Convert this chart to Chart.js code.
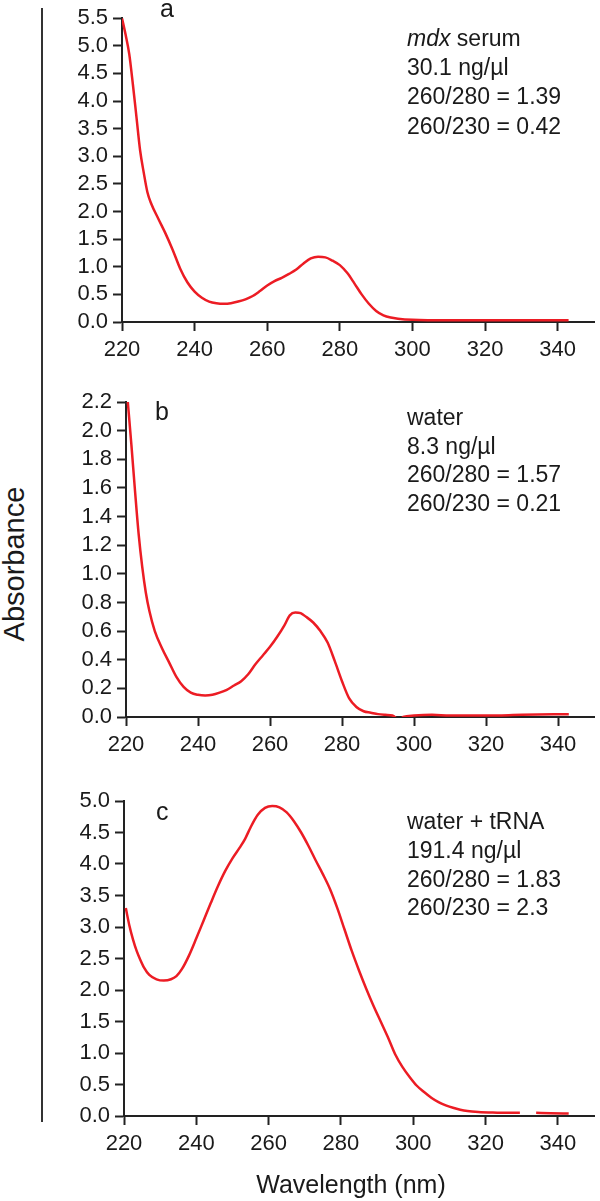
<!DOCTYPE html>
<html>
<head>
<meta charset="utf-8">
<script src="https://cdn.jsdelivr.net/npm/chart.js@4.4.1/dist/chart.umd.min.js"></script>
<style>
  body { margin: 0; background: #fff; }
  #wrap { position: relative; width: 600px; height: 1201px; font-family: "Liberation Sans", Arial, sans-serif; color: #1a1a1a; }
  .panel { position: absolute; left: 0; }
  #vline { position: absolute; left: 41px; top: 8px; width: 2px; height: 1114px; background: #333; }
  #ylab { position: absolute; left: 14px; top: 564px; transform: translate(-50%, -50%) rotate(-90deg); font-size: 29px; white-space: nowrap; }
  #xlab { position: absolute; left: 351px; top: 1170px; transform: translateX(-50%); font-size: 25px; white-space: nowrap; }
</style>
</head>
<body>
<div id="wrap">
  <div id="vline"></div>
  <div id="ylab">Absorbance</div>
  <canvas id="chartA" class="panel" style="top:0px" width="600" height="360"></canvas>
  <canvas id="chartB" class="panel" style="top:380px" width="600" height="380"></canvas>
  <canvas id="chartC" class="panel" style="top:760px" width="600" height="441"></canvas>
  <div id="xlab">Wavelength (nm)</div>
</div>
<script>
// panel a - mdx serum
var nmA = [220, 221, 222, 223, 224, 225, 226, 227, 228, 230, 232, 234, 236, 238, 240, 242, 244, 246, 248, 250,
  252, 254, 256, 258, 260, 262, 264, 266, 268, 270, 272, 274, 276, 278, 280, 282, 284, 286, 288, 290,
  292, 294, 296, 300, 310, 320, 330, 343];
var absA = [5.5, 5.2, 4.85, 4.3, 3.7, 3.1, 2.7, 2.35, 2.15, 1.87, 1.6, 1.3, 0.97, 0.72, 0.55, 0.44, 0.37, 0.34, 0.33, 0.34,
  0.37, 0.41, 0.47, 0.56, 0.66, 0.74, 0.8, 0.87, 0.95, 1.06, 1.15, 1.18, 1.17, 1.11, 1.03, 0.89, 0.7, 0.5, 0.33, 0.2,
  0.12, 0.08, 0.06, 0.04, 0.03, 0.03, 0.03, 0.03];

// panel b - water
var nmB = [220.5, 221.5, 222.5, 223.5, 224.5, 225.5, 226.5, 228, 230, 232, 234, 236, 238, 240, 242, 244, 246, 248, 250,
  252, 254, 256, 258, 260, 262, 264, 265.5, 267, 268.5, 270, 272, 274, 276, 278, 280, 282, 284, 286, 288, 290,
  292, 294, 296, 297, 300, 305, 310, 320, 330, 343];
var absB = [2.2, 1.9, 1.58, 1.28, 1.05, 0.87, 0.74, 0.6, 0.48, 0.38, 0.28, 0.21, 0.17, 0.155, 0.15, 0.155, 0.17, 0.19, 0.22,
  0.25, 0.3, 0.37, 0.43, 0.49, 0.56, 0.64, 0.71, 0.73, 0.725, 0.7, 0.66, 0.6, 0.52, 0.39, 0.25, 0.13, 0.07, 0.04, 0.03, 0.02,
  0.015, 0.01, -0.02, 0.0, 0.01, 0.015, 0.01, 0.01, 0.015, 0.02];

// panel c - water + tRNA (gap in the trace near 331 nm)
var nmC = [220.5, 221.5, 222.5, 223.5, 224.5, 225.5, 227, 229, 231, 233, 234.5, 236, 238, 240, 242, 244, 246, 248, 250,
  252, 253.5, 255, 257, 259, 261, 263, 265, 267, 269, 271, 273, 275, 277, 279, 281, 283, 285, 287, 289, 291,
  293, 295, 297, 299, 301, 303, 305, 307, 309, 311, 313, 315, 318, 322, 326, 329.5, 331, 334, 338, 343];
var absC = [3.3, 3.02, 2.8, 2.62, 2.48, 2.36, 2.24, 2.17, 2.15, 2.17, 2.22, 2.33, 2.55, 2.82, 3.1, 3.38, 3.65, 3.89, 4.09,
  4.26, 4.4, 4.58, 4.78, 4.89, 4.92, 4.9, 4.82, 4.68, 4.5, 4.29, 4.06, 3.84, 3.6, 3.3, 2.96, 2.62, 2.31, 2.02, 1.75, 1.5,
  1.25, 0.98, 0.78, 0.62, 0.48, 0.38, 0.29, 0.22, 0.17, 0.13, 0.1, 0.08, 0.065, 0.055, 0.05, 0.05, null, 0.05, 0.045, 0.04];

var textA = [[["mdx", true], [" serum", false]], [["30.1 ng/\u00b5l", false]], [["260/280 = 1.39", false]], [["260/230 = 0.42", false]]];
var textB = [[["water", false]], [["8.3 ng/\u00b5l", false]], [["260/280 = 1.57", false]], [["260/230 = 0.21", false]]];
var textC = [[["water + tRNA", false]], [["191.4 ng/\u00b5l", false]], [["260/280 = 1.83", false]], [["260/230 = 2.3", false]]];

var FONT = "'Liberation Sans', Arial, sans-serif";
var INK = "#1a1a1a";

// draws the panel letter and the sample notes
var panelText = {
  id: "panelText",
  afterDraw: function (chart, args, opts) {
    var ctx = chart.ctx;
    ctx.save();
    ctx.fillStyle = INK;
    ctx.textBaseline = "alphabetic";
    ctx.textAlign = "left";
    ctx.font = "25px " + FONT;
    ctx.fillText(opts.letter, opts.lx, opts.ly);
    opts.lines.forEach(function (segs, i) {
      var x = opts.tx;
      var y = opts.ty + i * opts.step;
      segs.forEach(function (s) {
        ctx.font = (s[1] ? "italic " : "") + "23px " + FONT;
        ctx.fillText(s[0], x, y);
        x += ctx.measureText(s[0]).width;
      });
    });
    ctx.restore();
  }
};

function makePanel(id, nm, absb, yMax, yStep, padTop, axisLeft, xHeight, txt) {
  var pts = nm.map(function (w, i) { return { x: w, y: absb[i] }; });
  var axisStyle = {
    display: true, drawOnChartArea: false, drawTicks: true,
    tickLength: 9, tickWidth: 2, tickColor: "#222"
  };
  return new Chart(document.getElementById(id).getContext("2d"), {
    type: "line",
    data: {
      datasets: [{
        data: pts,
        borderColor: "#ec1c24",
        borderWidth: 2.5,
        pointRadius: 0,
        tension: 0.4,
        cubicInterpolationMode: "monotone",
        spanGaps: false,
        fill: false
      }]
    },
    options: {
      responsive: false,
      animation: false,
      layout: { padding: { top: padTop, left: 0, right: 6, bottom: 0 } },
      plugins: {
        legend: { display: false },
        tooltip: { enabled: false },
        panelText: txt
      },
      scales: {
        x: {
          type: "linear",
          min: 220, max: 350,
          grid: axisStyle,
          border: { display: true, color: "#222", width: 2 },
          ticks: {
            stepSize: 20, includeBounds: false, padding: 6, autoSkip: false,
            color: INK, font: { family: FONT, size: 22 },
            maxRotation: 0
          },
          afterFit: function (s) { s.height = xHeight; }
        },
        y: {
          min: 0, max: yMax,
          grid: axisStyle,
          border: { display: true, color: "#222", width: 2 },
          ticks: {
            stepSize: yStep, padding: 5, autoSkip: false,
            color: INK, font: { family: FONT, size: 22 },
            callback: function (v) { return Number(v).toFixed(1); }
          },
          afterFit: function (s) { s.width = axisLeft; }
        }
      }
    },
    plugins: [panelText]
  });
}

makePanel("chartA", nmA, absA, 5.5, 0.5, 7, 122, 38,
  { letter: "a", lx: 160, ly: 17, lines: textA, tx: 407, ty: 46, step: 29.2 });
makePanel("chartB", nmB, absB, 2.2, 0.2, 22, 126, 43,
  { letter: "b", lx: 155, ly: 40, lines: textB, tx: 407, ty: 45, step: 28.7 });
makePanel("chartC", nmC, absC, 5.0, 0.5, 41, 124, 85,
  { letter: "c", lx: 156, ly: 60, lines: textC, tx: 407, ty: 69.3, step: 28.6 });
</script>
</body>
</html>
